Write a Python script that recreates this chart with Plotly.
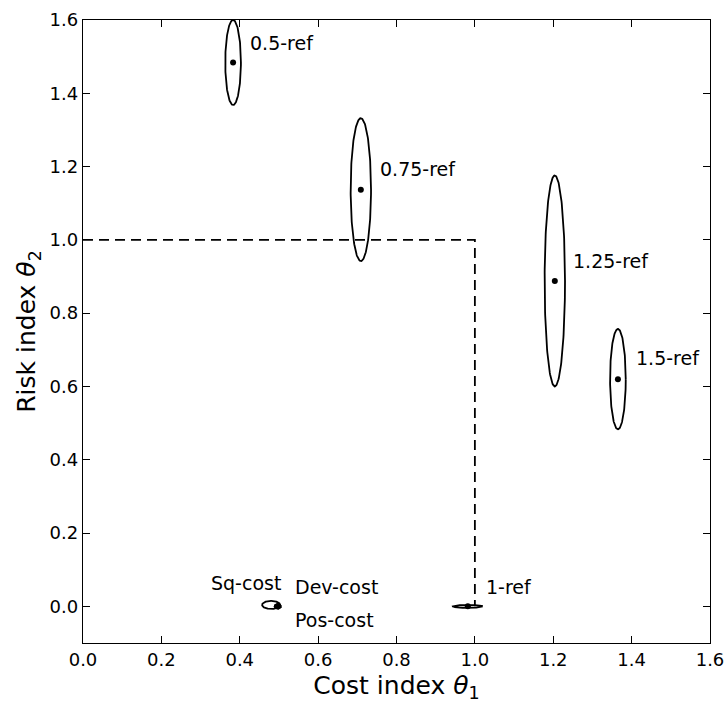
import numpy as np
import plotly.graph_objects as go

# Data
labels = ["0.5-ref", "0.75-ref", "1-ref", "1.25-ref", "1.5-ref", "Sq-cost", "Dev-cost", "Pos-cost"]
cx = [0.383, 0.709, 0.982, 1.204, 1.365, 0.480, 0.497, 0.497]
cy = [1.484, 1.137, 0.000, 0.888, 0.620, 0.004, 0.000, 0.000]
rx = [0.020, 0.026, 0.038, 0.026, 0.020, 0.023, 0.008, 0.008]
ry = [0.116, 0.195, 0.004, 0.288, 0.137, 0.011, 0.006, 0.006]
show_dot = [True, True, True, True, True, False, True, False]
label_x = [0.421, 0.753, 1.023, 1.245, 1.406, 0.510, 0.536, 0.536]
label_y = [1.538, 1.194, 0.052, 0.943, 0.678, 0.063, 0.052, -0.036]
label_anchor = ["left", "left", "left", "left", "left", "right", "left", "left"]

bound_x = [0.0, 1.0, 1.0]
bound_y = [1.0, 1.0, 0.0]

x_ticks = [0.0, 0.2, 0.4, 0.6, 0.8, 1.0, 1.2, 1.4, 1.6]
y_ticks = [0.0, 0.2, 0.4, 0.6, 0.8, 1.0, 1.2, 1.4, 1.6]

FONT = "DejaVu Sans"

fig = go.Figure()

t = np.linspace(0, 2 * np.pi, 200)
for i in range(len(labels)):
    fig.add_trace(go.Scatter(x=cx[i] + rx[i] * np.cos(t), y=cy[i] + ry[i] * np.sin(t),
                             mode="lines", line=dict(color="black", width=1.8),
                             showlegend=False, hoverinfo="skip"))

dx = [cx[i] for i in range(len(labels)) if show_dot[i]]
dy = [cy[i] for i in range(len(labels)) if show_dot[i]]
fig.add_trace(go.Scatter(x=dx, y=dy, mode="markers",
                         marker=dict(color="black", size=6), showlegend=False))

fig.add_trace(go.Scatter(x=bound_x, y=bound_y, mode="lines",
                         line=dict(color="black", width=1.8, dash="10px,6px"),
                         showlegend=False))

for i in range(len(labels)):
    fig.add_annotation(x=label_x[i], y=label_y[i], text=labels[i], showarrow=False,
                       xanchor=label_anchor[i], yanchor="middle",
                       font=dict(family=FONT, size=19, color="black"))

axis_common = dict(showgrid=False, zeroline=False, ticks="inside", ticklen=7,
                   tickcolor="black", showline=True, linecolor="black", linewidth=1.4,
                   mirror="allticks", automargin=False,
                   tickfont=dict(family=FONT, size=18, color="black"))

fig.update_xaxes(range=[0, 1.6], tickvals=x_ticks, ticktext=[f"{v:.1f}" for v in x_ticks],
                 title=dict(text="Cost index <i>θ</i><sub>1</sub>",
                            font=dict(family=FONT, size=25, color="black"), standoff=9),
                 **axis_common)
fig.update_yaxes(range=[-0.1, 1.6], tickvals=y_ticks, ticktext=[f"{v:.1f}" for v in y_ticks],
                 title=dict(text="Risk index <i>θ</i><sub>2</sub>",
                            font=dict(family=FONT, size=25, color="black"), standoff=6),
                 **axis_common)

fig.update_layout(width=726, height=703, plot_bgcolor="white", paper_bgcolor="white",
                  margin=dict(l=83, r=16, t=20, b=60))

fig.write_html("out.html", config={"displayModeBar": False},
               post_script="document.body.style.margin='0';document.body.style.overflow='hidden';")
